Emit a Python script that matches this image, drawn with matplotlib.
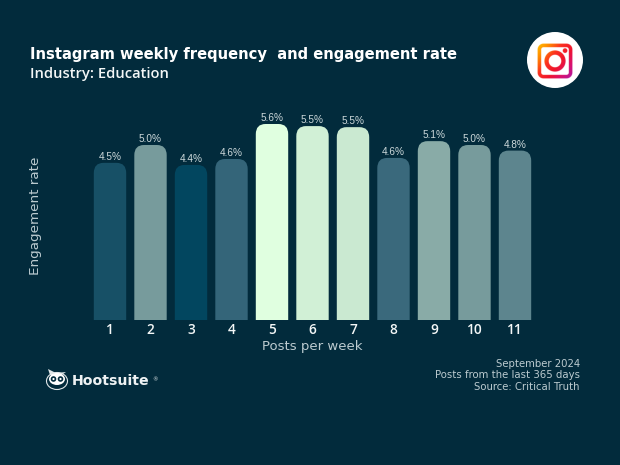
import numpy as np
import matplotlib
matplotlib.use("Agg")
import matplotlib.pyplot as plt
from matplotlib.colors import LinearSegmentedColormap, Normalize
from matplotlib.patches import Circle, Ellipse, PathPatch, Polygon
from matplotlib.path import Path

posts_per_week = [1, 2, 3, 4, 5, 6, 7, 8, 9, 10, 11]
engagement_rate = [4.49, 5.0, 4.43, 4.6, 5.6, 5.54, 5.51, 4.63, 5.11, 5.0, 4.84]

BG = "#022b3c"
MUTED = "#bccbd0"
WIDTH, HEIGHT = 620, 465
FONT = "DejaVu Sans"


def px(x, y):
    # figure fraction from reference pixel coordinates
    return x / WIDTH, 1 - y / HEIGHT


def rounded_bar(x, value, width, rx, ry):
    # bar with rounded top corners and a square foot, in data coordinates
    left, right = x - width / 2, x + width / 2
    verts = [(left, 0), (left, value - ry), (left, value), (left + rx, value),
             (right - rx, value), (right, value), (right, value - ry),
             (right, 0), (left, 0)]
    codes = [Path.MOVETO, Path.LINETO, Path.CURVE3, Path.CURVE3, Path.LINETO,
             Path.CURVE3, Path.CURVE3, Path.LINETO, Path.CLOSEPOLY]
    return Path(verts, codes)


def instagram_image(size=300):
    # gradient glyph as an RGBA array, -1..1 covers the rounded square
    ys, xs = np.mgrid[1:-1:size * 1j, -1:1:size * 1j]
    aa = 3.0 / size

    def cover(dist):
        return np.clip(0.5 - dist / aa, 0, 1)

    q = np.maximum(np.abs(np.dstack([xs, ys])) - (1 - 0.33 - 0.03), 0)
    box = np.hypot(q[..., 0], q[..., 1]) - 0.33
    ring = np.hypot(xs, ys) - 0.39
    dot = np.hypot(xs - 0.56, ys - 0.58) - 0.13
    alpha = np.maximum.reduce([cover(np.abs(box + 0.10) - 0.10),
                               cover(np.abs(ring - 0.08) - 0.12),
                               cover(dot)])
    t = np.clip((xs - ys * 0.8 + 1.8) / 3.6, 0, 1)
    cmap = LinearSegmentedColormap.from_list(
        "ig", ["#ffc800", "#ff8a00", "#fb3020", "#f0142c", "#d81070", "#a818a8"])
    rgba = cmap(t)
    rgba[..., 3] = alpha
    return rgba


fig = plt.figure(figsize=(WIDTH / 100, HEIGHT / 100), dpi=100, facecolor=BG)
plt.rcParams["font.family"] = [FONT]

# chart area: x=1 sits at 110px, spacing 40.5px, 35px per percentage point
ax = fig.add_axes([90 / WIDTH, 1 - 320 / HEIGHT, 445 / WIDTH, 210 / HEIGHT])
ax.set_facecolor("none")
ax.set_xlim(0.506, 11.494)
ax.set_ylim(0, 6)

cmap = LinearSegmentedColormap.from_list(
    "bars", [(0, "#02465f"), (0.05, "#175066"), (0.15, "#36667a"), (0.5, "#7a9d9d"),
             (0.93, "#cbead2"), (1, "#e0ffe0")])
norm = Normalize(min(engagement_rate), max(engagement_rate))

for x, value in zip(posts_per_week, engagement_rate):
    ax.add_patch(PathPatch(rounded_bar(x, value, 0.8, 0.24, 0.29),
                           facecolor=cmap(norm(value)), edgecolor="none"))
    ax.text(x, value + 0.03, f"{value:.1f}%", ha="center", va="bottom",
            fontsize=7.2, color="#ccd8da", family="Liberation Sans")

ax.set_xticks(posts_per_week)
ax.set_xticklabels(posts_per_week, fontsize=9.8, color="#f4f7f7", fontweight="semibold",
                   family="Open Sans")
ax.set_yticks([])
ax.tick_params(axis="x", length=0, pad=2)
for spine in ax.spines.values():
    spine.set_visible(False)

# text around the chart
fig.text(*px(30, 54), "Instagram weekly frequency  and engagement rate",
         fontsize=10.65, fontweight="bold", color="white", va="center")
fig.text(*px(30, 74), "Industry: Education", fontsize=10.6, color="#f4f7f7",
         fontweight="semibold", va="center", family="Open Sans")
fig.text(*px(312, 346), "Posts per week", fontsize=9.5, color=MUTED,
         ha="center", va="center")
fig.text(*px(35, 216), "Engagement rate", fontsize=9.7, color=MUTED,
         rotation=90, ha="center", va="center")
for y, line in zip([364, 375, 387], ["September 2024", "Posts from the last 365 days",
                                     "Source: Critical Truth"]):
    fig.text(*px(580, y), line, fontsize=7.25, color=MUTED, ha="right", va="center")

# logos on a full figure overlay in pixel coordinates
overlay = fig.add_axes([0, 0, 1, 1], zorder=3)
overlay.axis("off")

overlay.add_patch(Ellipse((555, 60), 56, 56, facecolor="white", edgecolor="none"))
overlay.imshow(instagram_image(), extent=(537, 573, 79, 43), zorder=3,
               interpolation="antialiased")
overlay.set_xlim(0, WIDTH)
overlay.set_ylim(HEIGHT, 0)
overlay.set_aspect("auto")

# owl
overlay.add_patch(Ellipse((57, 381), 21, 17, facecolor="none", edgecolor="#dfe6e8", linewidth=0.8))
overlay.add_patch(Polygon([(48, 369), (56, 373), (66, 372), (60, 376), (50, 375)],
                          closed=True, facecolor="#dfe6e8", edgecolor="none"))
overlay.add_patch(Ellipse((57, 379), 16, 12, facecolor="white", edgecolor="none"))
for ex in (53.5, 60.5):
    overlay.add_patch(Circle((ex, 379), 2.8, facecolor=BG, edgecolor="none"))
    overlay.add_patch(Circle((ex, 379), 1.1, facecolor="white", edgecolor="none"))
fig.text(*px(72, 381), "Hootsuite", fontsize=10.2, fontweight="bold", color="#eef2f3", va="center")
fig.text(*px(152, 380), "®", fontsize=4, color="#dfe6e8", va="center")

fig.savefig("out.png", dpi=100, facecolor=BG)
